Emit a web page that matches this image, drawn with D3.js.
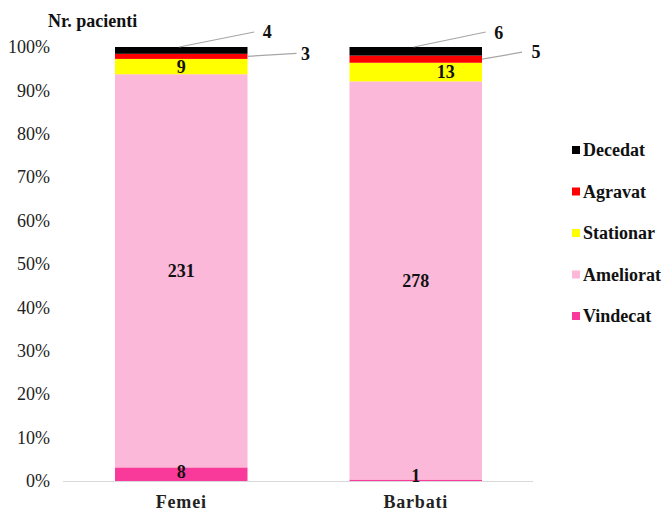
<!DOCTYPE html>
<html>
<head>
<meta charset="utf-8">
<script src="https://cdn.jsdelivr.net/npm/d3@7"></script>
<style>
  body { margin: 0; background: #fff; }
  svg, svg text { font-family: "Liberation Serif", "Tinos", "Times New Roman", serif !important; }
</style>
</head>
<body>
<svg id="chart" width="665" height="511"></svg>
<script>
// Patient outcomes by sex (counts, shown as 100% stacked columns)
const categories = ["Femei", "Barbati"];
const seriesNames = ["Vindecat", "Ameliorat", "Stationar", "Agravat", "Decedat"];
const vindecat  = [8, 1];
const ameliorat = [231, 278];
const stationar = [9, 13];
const agravat   = [3, 5];
const decedat   = [4, 6];
const tickValues = [0, 0.1, 0.2, 0.3, 0.4, 0.5, 0.6, 0.7, 0.8, 0.9, 1];
const colors = ["#f93a9a", "#fbb8d9", "#ffff00", "#ff0000", "#000000"];

const seriesValues = [vindecat, ameliorat, stationar, agravat, decedat];
const rows = categories.map((c, i) => {
  const r = { cat: c };
  seriesNames.forEach((s, k) => { r[s] = seriesValues[k][i]; });
  return r;
});

const svg = d3.select("#chart");
const x = d3.scaleBand().domain(categories).range([64, 533]).paddingInner(0.435).paddingOuter(0.2175);
const y = d3.scaleLinear().domain([0, 1]).range([481, 47]);

const stack = d3.stack().keys(seriesNames).offset(d3.stackOffsetExpand);
const layers = stack(rows);

// y axis labels (no axis line, no ticks)
const yAxis = d3.axisLeft(y).tickValues(tickValues).tickFormat(d3.format(".0%")).tickSize(0).tickPadding(0);
const gy = svg.append("g").attr("transform", "translate(50,0)").call(yAxis);
gy.attr("font-family", null).attr("font-size", null);
gy.select(".domain").remove();
gy.selectAll("text").attr("font-size", 18).attr("fill", "#222");

// bars
layers.forEach((layer, k) => {
  svg.append("g").selectAll("rect").data(layer).join("rect")
    .attr("x", d => x(d.data.cat))
    .attr("width", x.bandwidth())
    .attr("y", d => y(d[1]))
    .attr("height", d => y(d[0]) - y(d[1]))
    .attr("fill", colors[k]);
});

// baseline
svg.append("line").attr("x1", 63).attr("x2", 533).attr("y1", y(0) + 0.5).attr("y2", y(0) + 0.5)
  .attr("stroke", "#d9d9d9").attr("stroke-width", 1.2);

// x axis labels
const xAxis = d3.axisBottom(x).tickSize(0).tickPadding(0);
const gx = svg.append("g").attr("transform", "translate(0,503)").call(xAxis);
gx.attr("font-family", null).attr("font-size", null);
gx.select(".domain").remove();
gx.selectAll("text").attr("font-size", 18).attr("font-weight", "bold").attr("fill", "#222")
  .attr("dy", "0.3em").attr("letter-spacing", 0.8);

// title
svg.append("text").attr("x", 48).attr("y", 27).attr("font-size", 18).attr("font-weight", "bold")
  .attr("fill", "#111").text("Nr. pacienti");

// data labels placed inside segments
const insideShift = { Vindecat: [[0, -2], [0, -5]], Ameliorat: [[0, 0], [0, 0]], Stationar: [[0, 0], [30, 0]] };
["Vindecat", "Ameliorat", "Stationar"].forEach(name => {
  const layer = layers[seriesNames.indexOf(name)];
  svg.append("g").selectAll("text").data(layer).join("text")
    .attr("x", (d, i) => x(d.data.cat) + x.bandwidth() / 2 + insideShift[name][i][0])
    .attr("y", (d, i) => (y(d[0]) + y(d[1])) / 2 + insideShift[name][i][1])
    .attr("dy", "0.35em")
    .attr("text-anchor", "middle").attr("font-size", 18).attr("font-weight", "bold").attr("fill", "#111")
    .text(d => d.data[name]);
});

// callout labels for the thin top segments
const callouts = [
  { name: "Decedat", anchor: "top", ends: [[75, -15], [72, -15]], textOff: [[13, 0], [13, 1]] },
  { name: "Agravat", anchor: "right", ends: [[49, -3], [40, -7]], textOff: [[9, 0], [14, 0]] }
];
callouts.forEach(c => {
  const layer = layers[seriesNames.indexOf(c.name)];
  layer.forEach((d, i) => {
    let sx, sy;
    if (c.anchor === "top") { sx = x(d.data.cat) + x.bandwidth() / 2 - 2; sy = y(d[1]); }
    else { sx = x(d.data.cat) + x.bandwidth(); sy = (y(d[0]) + y(d[1])) / 2; }
    const ex = sx + c.ends[i][0], ey = sy + c.ends[i][1];
    svg.append("line").attr("x1", sx).attr("y1", sy).attr("x2", ex).attr("y2", ey)
      .attr("stroke", "#a6a6a6").attr("stroke-width", 1.2);
    svg.append("text").attr("x", ex + c.textOff[i][0]).attr("y", ey + c.textOff[i][1]).attr("dy", "0.35em")
      .attr("text-anchor", "middle").attr("font-size", 18).attr("font-weight", "bold").attr("fill", "#111")
      .text(d.data[c.name]);
  });
});

// legend (top series first)
const legendOrder = seriesNames.slice().reverse();
const lg = svg.append("g").selectAll("g").data(legendOrder).join("g")
  .attr("transform", (d, i) => `translate(572,${150 + i * 41.5})`);
lg.append("rect").attr("x", 0).attr("y", -4).attr("width", 8).attr("height", 8)
  .attr("fill", d => colors[seriesNames.indexOf(d)]);
lg.append("text").attr("x", 11).attr("y", 0).attr("dy", "0.35em").attr("font-size", 18)
  .attr("font-weight", "bold").attr("fill", "#111").text(d => d);
</script>
</body>
</html>
